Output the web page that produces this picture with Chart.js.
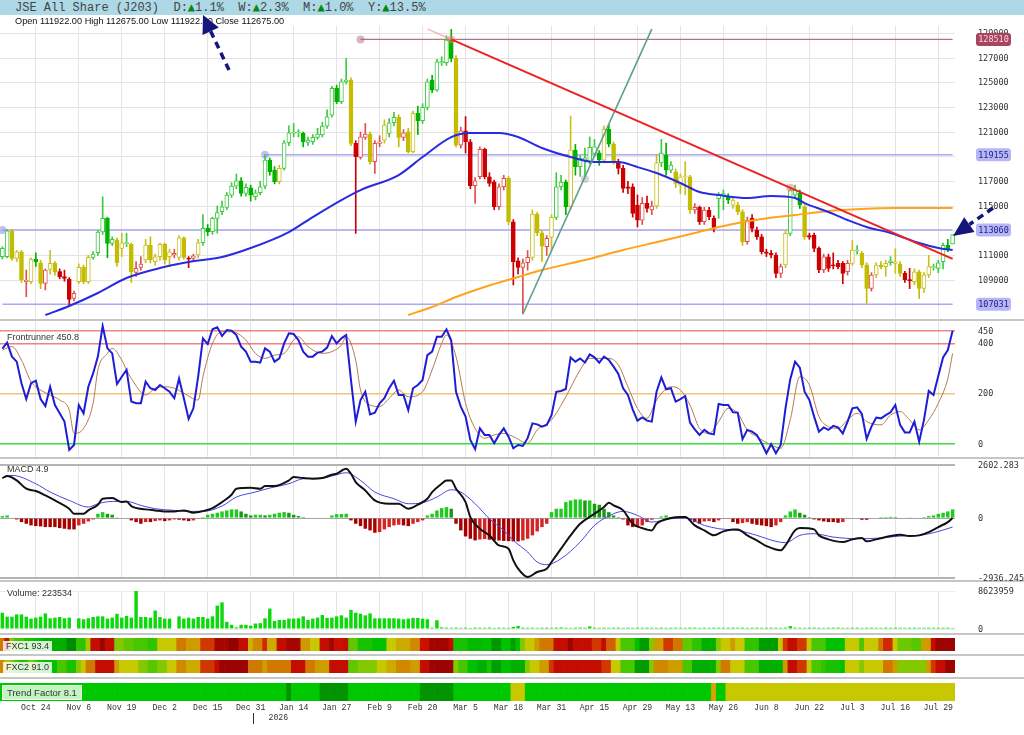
<!DOCTYPE html>
<html>
<head>
<meta charset="utf-8">
<title>JSE All Share (J203)</title>
<script src="https://cdn.jsdelivr.net/npm/chart.js@4.4.1/dist/chart.umd.min.js"></script>
<style>
  html, body { margin:0; padding:0; background:#fff; }
  body { width:1024px; height:735px; position:relative; overflow:hidden; font-family:'Liberation Sans', Arial, sans-serif; }
  .pane { position:absolute; left:0; }
  .sep { position:absolute; left:0; width:1024px; height:2px; background:#c6c6c6; }
  #hdr { position:absolute; left:0; top:0; width:1009px; height:15px; padding-left:15px; background:#add8e6; font:12px/15px 'Liberation Mono', monospace; color:#444; white-space:pre; }
  #hdr .up { color:#0a8a0a; font-family:'DejaVu Sans Mono', monospace; font-size:12px; }
  .lbl { position:absolute; font:9px/11px 'Liberation Sans', Arial, sans-serif; color:#333; white-space:pre; z-index:5; }
  .box { background:rgba(255,255,255,0.82); padding:0 3px; }
  .tfbox { background:rgba(215,250,215,0.9); padding:1px 4px; font-size:9.5px; border:1px solid rgba(255,255,255,0.7); }
  #ov { position:absolute; left:0; top:0; z-index:10; pointer-events:none; }
</style>
</head>
<body>
<div id="hdr">JSE All Share (J203)  D:<span class="up">▲</span>1.1%  W:<span class="up">▲</span>2.3%  M:<span class="up">▲</span>1.0%  Y:<span class="up">▲</span>13.5%</div>
<div class="lbl" style="left:15px;top:16px;color:#111;font-size:9.2px">Open 111922.00 High 112675.00 Low 111922.00 Close 112675.00</div>

<div class="sep" style="top:319px"></div>
<div class="sep" style="top:457px"></div>
<div class="sep" style="top:580px"></div>
<div class="sep" style="top:633px"></div>
<div class="sep" style="top:654px"></div>
<div class="sep" style="top:677px"></div>

<canvas id="cMain" class="pane" style="top:26px" width="1024" height="292"></canvas>
<canvas id="cFR" class="pane" style="top:322px" width="1024" height="135"></canvas>
<canvas id="cMACD" class="pane" style="top:460px" width="1024" height="122"></canvas>
<canvas id="cVol" class="pane" style="top:584px" width="1024" height="48"></canvas>
<canvas id="cF1" class="pane" style="top:638px" width="1024" height="13"></canvas>
<canvas id="cF2" class="pane" style="top:660px" width="1024" height="13"></canvas>
<canvas id="cTF" class="pane" style="top:683px" width="1024" height="52"></canvas>

<div class="lbl" style="left:7px;top:332px">Frontrunner 450.8</div>
<div class="lbl" style="left:7px;top:464px">MACD 4.9</div>
<div class="lbl" style="left:7px;top:588px">Volume: 223534</div>
<div class="lbl box" style="left:3px;top:641px">FXC1 93.4</div>
<div class="lbl box" style="left:3px;top:662px">FXC2 91.0</div>
<div class="lbl tfbox" style="left:2px;top:685px">Trend Factor 8.1</div>

<canvas id="ov" width="1024" height="735"></canvas>

<script>
// ---------------- DATA ----------------
const N = 200;
const sessions = Array.from({length: N}, (_, i) => i);
const xTickLabels = ['Oct 24','Nov 6','Nov 19','Dec 2','Dec 15','Dec 31','Jan 14','Jan 27','Feb 9','Feb 20','Mar 5','Mar 18','Mar 31','Apr 15','Apr 29','May 13','May 26','Jun 8','Jun 22','Jul 3','Jul 16','Jul 29'];
const xTickFirst = 7, xTickStep = 9;
const yearMarks = [{at: 53, label: '2026'}];

const opens = [
110890,110890,112999,110755,111296,108860,108863,110674,110400,108728,
109864,110350,109675,109269,109052,107511,108863,110025,108863,110836,
111215,112891,113999,111972,112242,111566,111950,111891,109621,110025,
110620,111836,110485,110890,111891,110890,111026,110836,112431,110750,
110755,111026,112026,113188,112918,113999,114540,114891,115891,116621,
117053,116026,116486,115756,116080,116621,118729,117919,116973,118053,
120135,120900,120946,120892,120162,120216,120568,120757,121486,122378,
124540,123459,125081,125216,120081,118945,120567,120838,118594,120081,
120351,120891,121756,122188,120567,121027,119404,122513,121918,122999,
125216,124405,126600,126621,128459,126973,119945,121107,120216,116648,
117378,119594,117378,116972,114945,116566,117242,113728,110566,110025,
110404,110836,114350,112836,111700,112458,114080,116566,116944,114945,
119539,118188,118700,118594,119269,119323,118729,121215,120026,118594,
118053,116550,116566,115080,113863,115215,114675,115000,118500,119134,
117918,117783,116700,117378,117378,114675,114891,113728,114675,114000,
115600,115900,115756,115080,115080,114540,112107,114000,113053,112512,
111296,111160,111026,109540,110215,112782,115891,116026,114945,112600,
112647,111566,109809,110890,110200,110350,110350,109674,110350,111350,
111160,110215,108322,109404,110215,110080,110404,110350,110296,109540,
109000,108863,109674,108322,109404,110000,109944,110485,111809,111922];
const highs = [
111700,113100,113100,111400,111400,109810,110800,111200,110600,109900,
111400,110500,109900,109800,109200,108100,110300,110200,111000,111300,
113000,115755,114100,112500,112400,112800,112800,112000,110500,110900,
112300,112500,111100,112000,112000,111500,111500,112600,112500,110900,
111100,112300,114300,113500,114100,115000,115400,116100,116900,117600,
117300,116800,116700,116300,117000,119200,118900,118200,118300,120300,
121500,121700,121200,121000,120600,120800,121300,121800,122800,124700,
124800,125300,126973,125400,120300,121000,121700,121000,120300,120700,
122000,122100,122600,122400,121200,121300,122700,123100,123300,125300,
125600,126900,127100,128800,129324,127200,121400,122250,120400,117300,
119800,119700,117700,117100,116800,117500,117400,113900,110800,110700,
111400,114700,114500,113000,112600,114300,117700,117500,117100,122300,
120000,119100,119700,120600,120400,119500,121500,121600,120200,118800,
118300,117000,116800,115900,115700,115800,115400,119200,120400,120100,
118600,118000,117600,118600,117500,115200,115000,114900,114900,114200,
116100,116300,116000,115700,115300,114700,114100,114300,113300,112700,
111500,111400,111200,110300,113000,116500,116700,116300,115100,112800,
112800,111700,111100,111100,111200,110600,110500,110600,112200,111800,
111300,110400,109600,110400,110500,110600,110900,111550,110500,109700,
109950,109900,109800,109600,111000,110300,110600,112000,112300,112675];
const lows = [
110700,110800,110600,110500,108800,107647,108700,110100,108300,108200,
109500,109400,109100,108900,106900,107300,108700,108700,108700,110700,
111000,112700,110800,111800,110100,110900,111700,108800,109300,109800,
110400,110400,110200,110600,110300,110100,110800,110600,110700,110000,
110500,110800,111800,112600,112700,112800,114300,114700,115700,116400,
115800,115800,115400,115500,115900,116400,117500,116800,116800,117900,
119900,120600,120600,119800,119900,120000,120400,120600,121300,122200,
123300,123300,124900,119900,112781,118800,120400,118400,117650,119800,
120100,120600,121500,119800,120300,119300,119300,120800,121700,122800,
124200,124300,126400,126400,126700,119800,119700,119300,116400,115215,
117200,117200,116600,114700,114700,116300,113500,108600,109500,106241,
109800,110600,112600,110500,111000,111400,113900,116300,114300,114700,
117500,117400,117400,118400,119000,118300,118500,119800,118400,117600,
116100,116000,114100,113300,113500,114500,114300,114800,118200,117500,
117700,116500,116000,115900,114400,114400,113500,113500,113900,112900,
114000,114700,115200,114800,114300,111800,111900,112900,112300,111100,
110900,110800,109200,109200,110000,112600,115600,114800,112300,112300,
111300,109600,109600,109700,109900,109900,108700,109400,110200,111100,
110000,107100,108100,109200,109900,109300,110200,109550,109300,108800,
108300,108600,107500,108000,109200,109800,109600,109900,111300,111922];
const closes = [
111566,112999,110755,111296,108998,108998,110674,110484,108728,109810,
110350,109675,109269,109133,107430,107917,110025,108863,110836,111107,
112891,113999,111972,112296,110404,112026,112000,109675,109945,110296,
111836,110620,110890,111891,110620,111296,111160,112431,110836,110700,
110971,112026,113188,112918,113999,114459,114945,115891,116621,117053,
116026,116513,115891,116080,116567,118729,117783,116973,118053,120135,
120946,120950,120990,120216,120351,120568,120838,121486,122243,124540,
123459,125081,125216,120081,119000,120621,120838,118594,120081,120216,
121567,121756,122188,120567,120946,119404,122513,121918,122999,125081,
124405,126702,126720,128459,126973,119945,121107,120216,116648,117053,
119594,117378,116837,114945,116566,117242,113728,110485,110025,110404,
110836,114350,112836,111755,112377,114080,116566,116944,114945,119539,
118188,118864,118900,119755,119810,118729,121215,120026,118594,118053,
116432,116432,114404,113863,115215,114810,115000,118500,119300,117918,
118323,116837,117378,117450,114675,114891,113728,114675,114134,113188,
115890,116000,115486,115486,114540,112107,113863,113188,112512,111296,
111160,111026,109540,110080,112782,116296,116296,115080,112512,112480,
111566,109809,110890,109944,110150,110080,109540,110350,111431,111431,
110215,108322,109404,110215,110080,110350,110566,110485,109540,109000,
108950,109674,108322,109404,110080,110100,110404,111809,111485,112675];
// candle state: g = bullish trend, y = neutral, r = bearish
const candleState = ('ggyyyrygyr' + 'yyrrrryyyg' + 'ggggyygyrr' + 'yyyyyyryyr' + 'rygggggggg' +
  'ggggggggyg' + 'gggggggggg' + 'gggyrrryrr' + 'yggyryyggg' + 'gggggyrrrr' +
  'rrrrrryrrr' + 'ryyyrygggy' + 'ggggggygyr' + 'rrrrrrrygg' + 'gyyyyrrrrr' +
  'gggyyyrrrr' + 'rrrrygggyr' + 'rrrrrrrryg' + 'yyryyygyyr' + 'ryyyyggggg').split('');

const ma50At = [9,14,20,26,33,39,46,52,60,65,71,75,83,88,94,98,104,108,113,119,124,129,133,137,142,146,150,156,161,166,168,173,177,181,186,192,196,199];
const ma50 = [106162,106892,107946,109162,109973,110460,110865,111595,112892,114108,115487,116297,117514,118973,120595,120919,120919,120595,119703,118973,118568,118568,118162,117676,116865,116135,115892,115649,115810,115649,115243,114514,113865,113298,112811,112000,111595,111433];
const ma200At = [85,90,95,101,108,113,122,130,138,145,152,159,166,173,180,187,199];
const ma200 = [106162,106811,107622,108433,109244,109811,110622,111433,112162,112811,113460,113946,114270,114595,114757,114838,114838];

const levelValues = [128510, 119155, 113060, 107031];
const levelFrom = [75, 55, 0, 0];
const downTrendAt = [94, 199], downTrend = [128510, 110720];
const downTrendBackAt = [89, 94], downTrendBack = [129370, 128510];
const upTrendAt = [109, 136], upTrend = [106244, 129351];
const markAt = [94, 165, 122], markVal = [128510, 116480, 117190];
const priceTicks = [109000,111000,113000,115000,117000,119000,121000,123000,125000,127000,129000];

const frontrunner = [
380,404,348,328,242,179,242,252,179,151,
228,155,122,89,-24,-4,155,122,228,281,
348,470,381,361,239,268,295,169,162,162,
248,222,215,235,222,208,182,261,182,100,
142,268,421,398,457,465,430,454,451,434,
388,368,328,328,324,381,368,328,341,401,
441,438,414,368,348,348,364,368,384,430,
401,421,434,255,89,175,208,118,125,162,
182,222,252,195,195,135,222,235,255,354,
368,427,427,457,412,208,149,109,16,-21,
62,36,36,3,36,62,29,
-17,-4,-8,23,82,78,69,76,115,208,
211,219,345,328,341,325,357,345,324,348,
335,308,279,222,195,138,93,106,93,89,
208,265,218,222,169,179,191,85,58,36,
56,42,38,159,155,155,126,125,19,56,
49,36,3,-37,-1,-37,-4,142,258,328,
304,208,175,109,49,66,56,72,66,42,
89,142,146,120,20,69,105,102,115,126,
155,76,46,46,89,9,96,211,195,271,
345,374,450.8];
const frSignalAt = [0,2,4,6,8,10,12,14,15,17,19,20,22,23,25,26,27,30,32,34,36,38,41,42,44,46,48,51,53,55,57,59,61,62,64,67,69,71,72,74,75,77,79,81,83,85,88,90,92,93,95,97,99,101,103,105,107,110,112,115,118,121,123,125,127,129,131,133,135,137,140,142,144,146,148,150,152,154,156,158,161,163,165,167,169,171,173,175,177,179,181,184,186,188,190,192,194,196,198,199];
const frSignal = [374,388,334,248,215,195,175,135,42,62,162,295,361,381,334,295,261,195,222,228,222,202,175,268,401,447,447,414,361,341,354,361,414,427,388,361,368,394,427,334,215,155,149,182,215,188,208,295,401,434,348,162,62,23,36,42,29,3,56,96,188,295,341,341,341,315,228,142,102,175,228,215,155,62,42,89,142,122,56,29,-4,-17,96,268,235,109,69,62,96,122,89,76,115,129,96,56,96,162,261,361];
const frTicks = [0, 200, 400, 450];

const macdAt = [0,1,3,5,7,9,11,14,15,17,18,20,21,23,25,26,27,30,32,34,36,38,40,41,44,46,48,49,52,54,55,57,60,61,63,65,67,69,70,72,73,74,76,78,81,83,85,87,89,90,92,93,94,95,97,98,100,102,104,106,107,108,110,112,114,115,117,119,121,124,126,127,128,130,132,134,136,137,140,142,143,145,147,149,151,153,154,156,158,160,163,164,166,167,170,171,173,176,178,180,181,183,186,188,190,192,194,196,198,199];
const macdLine = [1962,2060,1847,1439,1325,1112,867,459,214,214,377,655,949,982,786,818,590,427,378,329,329,378,263,296,492,786,1145,1439,1488,1439,1570,1570,1847,2011,1962,1929,1962,2125,2174,2419,2174,1766,1357,867,704,704,459,655,949,1276,1684,1847,1847,1439,786,51,-521,-847,-1337,-1500,-2072,-2480,-2888,-2644,-2480,-2154,-1500,-847,-276,214,541,753,623,378,-276,-488,-602,-276,2,51,51,-357,-602,-847,-651,-553,-553,-847,-1092,-1370,-1582,-1337,-602,-488,-553,-847,-1043,-1174,-1043,-978,-1141,-1043,-880,-815,-880,-847,-684,-439,-194,5];
const signalAt = [0,2,7,10,14,18,20,23,26,29,32,36,39,42,46,49,53,56,60,63,67,69,72,75,78,82,85,88,91,94,96,99,102,105,107,110,112,114,117,121,124,128,130,133,136,140,143,147,150,154,158,162,164,167,170,174,179,184,188,192,195,199];
const signalLine = [1962,2092,1684,1276,867,541,704,818,818,623,459,378,329,329,590,1031,1276,1472,1684,1929,1962,2060,2223,1847,1276,949,704,753,1031,1390,1276,704,-31,-602,-1092,-1663,-2154,-2284,-1990,-1174,-357,214,329,133,-194,-31,2,-357,-520,-602,-847,-1141,-1206,-847,-765,-929,-1010,-978,-880,-847,-717,-439];
const macdHist = [
98,131,0,-65,-196,-278,-359,-392,-408,-441,
-441,-441,-490,-523,-555,-555,-359,-278,-163,-65,
212,294,212,163,33,0,0,-114,-196,-278,
-196,-196,-147,-114,-147,-114,-65,-82,-114,-147,
-114,-33,49,163,212,261,327,376,425,425,
327,212,131,163,163,131,163,212,261,294,
261,163,98,49,0,0,0,0,0,131,
196,196,212,-114,-278,-392,-523,-604,-719,-686,
-555,-441,-359,-327,-359,-392,-278,-196,-114,131,
212,376,490,539,457,-278,-604,-900,-1012,-1094,
-1050,-1030,-1060,-1090,-1100,-1120,-1130,-1143,-1143,-1094,
-1012,-849,-653,-441,-278,294,457,457,784,865,
914,914,865,865,702,653,457,294,131,49,
-65,-359,-441,-392,-359,-196,-82,0,82,131,
49,33,16,-33,-114,-196,-278,-163,-147,-196,
-114,-33,-33,-196,-278,-245,-196,-278,-327,-359,
-392,-441,-359,-196,131,327,425,261,163,49,
-65,-114,-163,-196,-196,-229,-196,-33,0,0,
-82,-82,0,0,49,49,65,49,0,0,
16,0,0,49,98,131,212,261,327,425];
const macdMax = 2602.283, macdMin = -2936.245;

const volume = [
3690000,2800000,2800000,3320000,3320000,2800000,2360000,2580000,2800000,3540000,
2430000,2580000,2730000,2430000,2580000,0,2430000,2210000,2430000,2730000,
2870000,2870000,2360000,2580000,3460000,2580000,2950000,2580000,8623959,2730000,
2730000,2580000,4200000,2730000,2360000,2360000,0,2870000,2360000,2580000,
2360000,2730000,2730000,2360000,2870000,5310000,6040000,1620000,960000,370000,
960000,960000,740000,1250000,1330000,2430000,4640000,1840000,2060000,2060000,
2360000,2360000,2430000,2870000,2060000,2360000,2580000,3170000,2510000,2580000,
2870000,3100000,2580000,4350000,3690000,3460000,3100000,3540000,2430000,2430000,
2430000,2430000,2430000,2360000,2210000,2360000,2510000,2510000,2360000,2210000,
290000,1990000,370000,300000,280000,320000,260000,300000,240000,310000,
290000,270000,330000,250000,300000,280000,260000,450000,700000,300000,
280000,300000,260000,290000,310000,270000,300000,350000,280000,260000,
300000,320000,280000,590000,290000,260000,300000,280000,300000,310000,
270000,290000,260000,300000,280000,310000,290000,270000,300000,260000,
290000,300000,280000,270000,310000,290000,260000,300000,280000,290000,
300000,270000,290000,310000,280000,300000,260000,290000,300000,270000,
280000,300000,290000,260000,310000,650000,300000,280000,270000,290000,
300000,280000,260000,290000,300000,310000,270000,280000,290000,300000,
260000,290000,300000,280000,270000,310000,290000,300000,280000,260000,
290000,300000,270000,280000,300000,290000,260000,280000,300000,223534];
const volumeMax = 8623959;

const fxc1 = [
72,88,45,35,35,25,25,20,20,15, 15,15,15,15,5,5,30,30,50,88,
88,96,88,88,45,45,40,40,35,35, 35,30,30,55,55,55,55,72,72,65,
65,65,80,80,80,94,94,94,98,98, 88,88,60,70,70,82,62,62,88,88,
94,94,94,66,66,55,55,88,88,95, 86,86,88,40,40,25,25,25,20,20,
20,55,55,62,62,62,70,70,86,86, 95,95,95,95,88,25,25,25,18,18,
18,20,20,8,8,20,20,10,20,45, 55,55,65,72,72,72,88,88,88,96,
88,88,88,88,80,80,88,75,75,55, 35,35,35,20,10,10,45,65,65,80,
80,72,72,40,40,30,30,15,15,15, 45,55,55,65,55,55,30,30,30,10,
10,10,10,55,80,88,88,80,80,55, 35,35,35,20,20,20,20,55,55,55,
35,55,55,55,72,82,82,55,42,42, 42,38,38,65,65,88,96,96,96,96];
const fxc2 = [
70,58,45,35,25,28,45,35,25,20, 20,20,35,35,25,25,45,55,72,72,
88,88,88,88,65,55,55,55,55,45, 45,38,38,45,45,55,55,70,70,62,
62,62,80,80,80,88,96,96,96,96, 96,96,72,72,72,65,72,72,72,72,
72,88,88,88,72,72,65,65,65,88, 88,88,88,40,40,45,45,45,45,55,
55,62,62,70,70,70,65,65,88,88, 96,96,96,96,96,45,35,35,20,20,
15,15,25,10,10,20,20,15,15,15, 45,55,55,65,65,80,88,88,88,88,
88,88,88,88,88,88,80,80,55,55, 35,35,35,10,10,10,45,70,70,70,
65,65,65,35,35,15,15,15,15,15, 45,72,72,55,55,55,35,35,35,15,
15,15,15,15,65,88,88,80,80,55, 35,35,30,25,25,25,20,55,55,55,
45,55,55,55,55,72,72,65,45,45, 45,45,45,45,65,80,88,88,96,96];
// trend factor state per session: G bull, D strong bull, Y neutral, O transition
const trendFactor = ('GGGGGGGGGG' + 'GGGGGGGGGG' + 'GGGGGGGGGG' + 'GGGGGGGGGG' + 'GGGGGGGGGG' + 'GGGGGGGGGG' +
  'DGGGGGGDDD' + 'DDDGGGGGGG' + 'GGGGGGGGDD' + 'DDDDDGGGGG' + 'GGGGGGGYYY' +
  'GGGGGGGGGG' + 'GGGGGGGGGG' + 'GGGGGGGGGG' + 'GGGGGGGGGO' + 'GGYYYYYYYY' +
  'YYYYYYYYYY' + 'YYYYYYYYYY' + 'YYYYYYYYYY' + 'YYYYYYYYYY').split('');

// ---------------- STYLE ----------------
const MONO = "'DejaVu Sans Mono', monospace";
const XMONO = "'Liberation Mono', monospace";
Chart.defaults.animation = false;
Chart.defaults.font.family = "'Liberation Sans', Arial, sans-serif";
const toneFill = {g: '#00b200', y: '#c4bc00', r: '#cc0000'};
const toneLine = {g: '#3fc93f', y: '#c8c020', r: '#e05050'};
const levelLine = ['#b27484', '#a9a9f2', '#a9a9f2', '#a9a9f2'];
const levelDot = ['rgba(170,90,110,0.45)', 'rgba(140,140,235,0.55)', 'rgba(140,140,235,0.55)', null];
const levelBoxBg = ['#a8445e', '#b6b6f6', '#b6b6f6', '#b6b6f6'];
const levelBoxText = ['#f4d6dc', '#22228a', '#22228a', '#22228a'];
const trendColors = {G: '#00c800', D: '#009400', Y: '#c8c800', O: '#e0a000'};
const heatStops = [[0,[0,122,0]],[20,[0,192,0]],[40,[96,200,0]],[55,[200,200,0]],[70,[208,136,0]],[85,[208,16,0]],[100,[136,0,0]]];
function heatColor(v) {
  for (let k = 1; k < heatStops.length; k++) {
    const [a, ca] = heatStops[k-1], [b, cb] = heatStops[k];
    if (v <= b) { const t = (v - a) / (b - a); return 'rgb(' + ca.map((c, j) => Math.round(c + (cb[j] - c) * t)).join(',') + ')'; }
  }
  return 'rgb(136,0,0)';
}

function isLabelIdx(i) {
  const k = (i - xTickFirst) / xTickStep;
  return Number.isInteger(k) && k >= 0 && k < xTickLabels.length;
}
function labelAt(i) { return isLabelIdx(i) ? xTickLabels[(i - xTickFirst) / xTickStep] : ''; }
function pts(at, vals) { return at.map((i, k) => ({x: i, y: vals[k]})); }

function xCfg(showLabels, showGrid) {
  return {
    type: 'category', offset: true,
    grid: { display: showGrid, offset: false, drawTicks: false, lineWidth: 1,
            color: c => (isLabelIdx(c.index) ? '#e4e4e4' : 'rgba(0,0,0,0)') },
    border: { display: false },
    ticks: { display: showLabels, autoSkip: false, maxRotation: 0, minRotation: 0, padding: 2,
             color: '#333', font: { family: XMONO, size: 8.2 }, callback: (v, i) => labelAt(i) },
    afterFit: s => { s.height = showLabels ? 34 : 0; s.paddingLeft = 0; s.paddingRight = 0; }
  };
}
// y axis on the right; its tick texts are written by the rightLabels plugin (no label padding)
function yCfg(min, max, tickVals, gridColor, gridWidth) {
  return {
    type: 'linear', position: 'right', min: min, max: max,
    border: { display: false },
    grid: { drawTicks: false, color: gridColor, lineWidth: gridWidth },
    ticks: { display: false },
    afterBuildTicks: s => { s.ticks = tickVals.map(v => ({ value: v })); },
    afterFit: s => { s.width = 69; s.paddingTop = 0; s.paddingBottom = 0; }
  };
}
function rightLabels(fmt) {
  return {
    id: 'rightLabels',
    afterDraw(chart) {
      const s = chart.scales.y, ctx = chart.ctx;
      ctx.save();
      ctx.fillStyle = '#333'; ctx.font = '8.5px ' + MONO;
      ctx.textAlign = 'left'; ctx.textBaseline = 'middle';
      s.ticks.forEach(t => ctx.fillText(fmt(t.value), chart.chartArea.right + 23, s.getPixelForValue(t.value) + 0.5));
      ctx.restore();
    }
  };
}
const baseOpts = { responsive: false, animation: false, events: [],
  plugins: { legend: { display: false }, tooltip: { enabled: false } } };
function layoutPad(p) { return { autoPadding: false, padding: p }; }

// ---------------- MAIN PRICE CHART ----------------
const levelBoxes = {
  id: 'levelBoxes',
  afterDraw(chart) {
    const y = chart.scales.y, ctx = chart.ctx;
    ctx.save();
    levelValues.forEach((v, k) => {
      const py = y.getPixelForValue(v);
      ctx.fillStyle = levelBoxBg[k];
      ctx.beginPath();
      if (ctx.roundRect) ctx.roundRect(976, py - 6.5, 35, 13, 3); else ctx.rect(976, py - 6.5, 35, 13);
      ctx.fill();
      ctx.fillStyle = levelBoxText[k];
      ctx.font = '8.5px ' + MONO;
      ctx.textAlign = 'center'; ctx.textBaseline = 'middle';
      ctx.fillText(String(v), 993.5, py + 0.5);
    });
    ctx.restore();
  }
};
const hollow = i => closes[i] >= opens[i];
const mainDatasets = [];
levelValues.forEach((v, k) => {
  mainDatasets.push({ type: 'line', data: [{x: levelFrom[k], y: v}, {x: N - 1, y: v}],
    borderColor: levelLine[k], borderWidth: k === 0 ? 1.2 : 1.6,
    pointRadius: [levelDot[k] ? 4 : 0, 0], pointBackgroundColor: levelDot[k] || 'rgba(0,0,0,0)',
    pointBorderWidth: 0, clip: false, order: 6 });
});
mainDatasets.push({ type: 'bar', data: sessions.map(i => [lows[i], highs[i]]),
  backgroundColor: sessions.map(i => hollow(i) ? toneLine[candleState[i]] : toneFill[candleState[i]]),
  barThickness: 1, grouped: false, order: 4 });
mainDatasets.push({ type: 'bar', data: sessions.map(i => [opens[i], closes[i]]),
  backgroundColor: sessions.map(i => hollow(i) ? '#ffffff' : toneFill[candleState[i]]),
  borderColor: sessions.map(i => hollow(i) ? toneLine[candleState[i]] : toneFill[candleState[i]]),
  borderWidth: 1, borderSkipped: false, barThickness: 4, minBarLength: 1, grouped: false, order: 3 });
mainDatasets.push({ type: 'line', data: pts(ma200At, ma200), borderColor: '#ffa41c', borderWidth: 2,
  pointRadius: 0, cubicInterpolationMode: 'monotone', order: 2 });
mainDatasets.push({ type: 'line', data: pts(ma50At, ma50), borderColor: '#2a2ae0', borderWidth: 2,
  pointRadius: 0, cubicInterpolationMode: 'monotone', order: 1 });
mainDatasets.push({ type: 'line', data: pts(downTrendBackAt, downTrendBack), borderColor: 'rgba(240,140,140,0.6)', borderWidth: 1.5, pointRadius: 0, order: 0 });
mainDatasets.push({ type: 'line', data: pts(downTrendAt, downTrend), borderColor: '#ee2020', borderWidth: 2, pointRadius: 0, order: 0 });
mainDatasets.push({ type: 'line', data: pts(upTrendAt, upTrend), borderColor: '#5e9e8c', borderWidth: 1.6, pointRadius: 0, order: 0 });
mainDatasets.push({ type: 'line', data: pts(markAt, markVal), showLine: false, pointRadius: 4, pointBorderWidth: 0,
  pointBackgroundColor: ['rgba(235,120,120,0.5)', 'rgba(235,120,120,0.5)', 'rgba(170,170,170,0.5)'], order: 0 });

new Chart(document.getElementById('cMain'), {
  type: 'bar',
  data: { labels: sessions, datasets: mainDatasets },
  options: Object.assign({}, baseOpts, {
    layout: layoutPad(0),
    scales: {
      x: xCfg(false, true),
      y: yCfg(105920, 129600, priceTicks, '#e4e4e4', 1)
    }
  }),
  plugins: [rightLabels(v => String(v)), levelBoxes]
});

// ---------------- FRONTRUNNER ----------------
const frGridColor = c => ({450: '#f08686', 400: '#ee8080', 200: '#f0c67a', 0: '#3cdc3c'}[c.tick ? c.tick.value : -1] || '#e4e4e4');
new Chart(document.getElementById('cFR'), {
  type: 'line',
  data: { labels: sessions, datasets: [
    { data: frontrunner, borderColor: '#1d1dd6', borderWidth: 2, pointRadius: 0, tension: 0, order: 0 },
    { data: pts(frSignalAt, frSignal), borderColor: '#b47a52', borderWidth: 1, pointRadius: 0, cubicInterpolationMode: 'monotone', order: 1 }
  ]},
  options: Object.assign({}, baseOpts, {
    layout: layoutPad(0),
    scales: { x: xCfg(false, true), y: yCfg(-52, 486, frTicks, frGridColor, 1.5) }
  }),
  plugins: [rightLabels(v => String(v))]
});

// ---------------- MACD ----------------
const histColors = macdHist.map((v, i) => {
  const p = i ? macdHist[i - 1] : v;
  if (v >= 0) return v >= p ? '#1ecb1e' : '#139c13';
  return v <= p ? '#a80000' : '#d42424';
});
new Chart(document.getElementById('cMACD'), {
  type: 'bar',
  data: { labels: sessions, datasets: [
    { type: 'line', data: pts(macdAt, macdLine), borderColor: '#111111', borderWidth: 2, pointRadius: 0, cubicInterpolationMode: 'monotone', order: 0 },
    { type: 'line', data: pts(signalAt, signalLine), borderColor: '#4646e6', borderWidth: 1, pointRadius: 0, cubicInterpolationMode: 'monotone', order: 1 },
    { type: 'bar', data: macdHist, backgroundColor: histColors, barPercentage: 0.72, categoryPercentage: 1, order: 2 }
  ]},
  options: Object.assign({}, baseOpts, {
    layout: layoutPad({ top: 5, bottom: 4 }),
    scales: {
      x: xCfg(false, true),
      y: yCfg(macdMin, macdMax, [macdMin, 0, macdMax],
        c => (c.tick && c.tick.value === 0 ? '#a4a4a4' : '#b4b4b4'),
        c => (c.tick && c.tick.value === 0 ? 1 : 2))
    }
  }),
  plugins: [rightLabels(v => (v === 0 ? '0' : v.toFixed(3)))]
});

// ---------------- VOLUME ----------------
new Chart(document.getElementById('cVol'), {
  type: 'bar',
  data: { labels: sessions, datasets: [
    { data: volume, backgroundColor: '#0cd90c', barPercentage: 0.72, categoryPercentage: 1 }
  ]},
  options: Object.assign({}, baseOpts, {
    layout: layoutPad({ top: 7, bottom: 3 }),
    scales: { x: xCfg(false, true), y: yCfg(0, volumeMax, [0, volumeMax], '#ececec', 1) }
  }),
  plugins: [rightLabels(v => String(v))]
});

// ---------------- HEAT STRIPS ----------------
function stripChart(id, colors, extra) {
  const showAxis = !!extra;
  return new Chart(document.getElementById(id), {
    type: 'bar',
    data: { labels: sessions, datasets: [
      { data: sessions.map(() => 1), backgroundColor: colors, barPercentage: 1, categoryPercentage: 1, borderWidth: 0 }
    ]},
    options: Object.assign({}, baseOpts, {
      layout: layoutPad({ right: 69 }),
      scales: {
        x: Object.assign(xCfg(showAxis, false), { display: showAxis }),
        y: { display: false, min: 0, max: 1 }
      }
    }),
    plugins: extra ? [extra] : []
  });
}
stripChart('cF1', fxc1.map(heatColor));
stripChart('cF2', fxc2.map(heatColor));
const yearPlugin = {
  id: 'yearMarks',
  afterDraw(chart) {
    const xs = chart.scales.x, ctx = chart.ctx, b = chart.chartArea.bottom;
    ctx.save();
    yearMarks.forEach(m => {
      const x = Math.round((xs.getPixelForValue(m.at - 1) + xs.getPixelForValue(m.at)) / 2) + 0.5;
      ctx.strokeStyle = '#333'; ctx.lineWidth = 1;
      ctx.beginPath(); ctx.moveTo(x, b + 12); ctx.lineTo(x, b + 23); ctx.stroke();
      ctx.fillStyle = '#333'; ctx.font = '8.2px ' + XMONO;
      ctx.textAlign = 'left'; ctx.textBaseline = 'middle';
      ctx.fillText(m.label, x + 15, b + 17);
    });
    ctx.restore();
  }
};
stripChart('cTF', trendFactor.map(s => trendColors[s]), yearPlugin);

// ---------------- ANNOTATION ARROWS ----------------
(function () {
  const ctx = document.getElementById('ov').getContext('2d');
  function arrow(tail, tip, headLen, halfW) {
    const dx = tip[0] - tail[0], dy = tip[1] - tail[1], L = Math.hypot(dx, dy);
    const ux = dx / L, uy = dy / L, nx = -uy, ny = ux;
    const bx = tip[0] - ux * headLen, by = tip[1] - uy * headLen;
    ctx.strokeStyle = '#15157a'; ctx.fillStyle = '#15157a';
    ctx.lineWidth = 3.5; ctx.setLineDash([7, 5]); ctx.lineCap = 'butt';
    ctx.beginPath(); ctx.moveTo(tail[0], tail[1]); ctx.lineTo(bx, by); ctx.stroke();
    ctx.setLineDash([]);
    ctx.beginPath(); ctx.moveTo(tip[0], tip[1]);
    ctx.lineTo(bx + nx * halfW, by + ny * halfW); ctx.lineTo(bx - nx * halfW, by - ny * halfW);
    ctx.closePath(); ctx.fill();
  }
  arrow([229, 70], [203, 15], 18, 9);
  arrow([993, 208], [953, 236], 20, 9);
})();
</script>
</body>
</html>
